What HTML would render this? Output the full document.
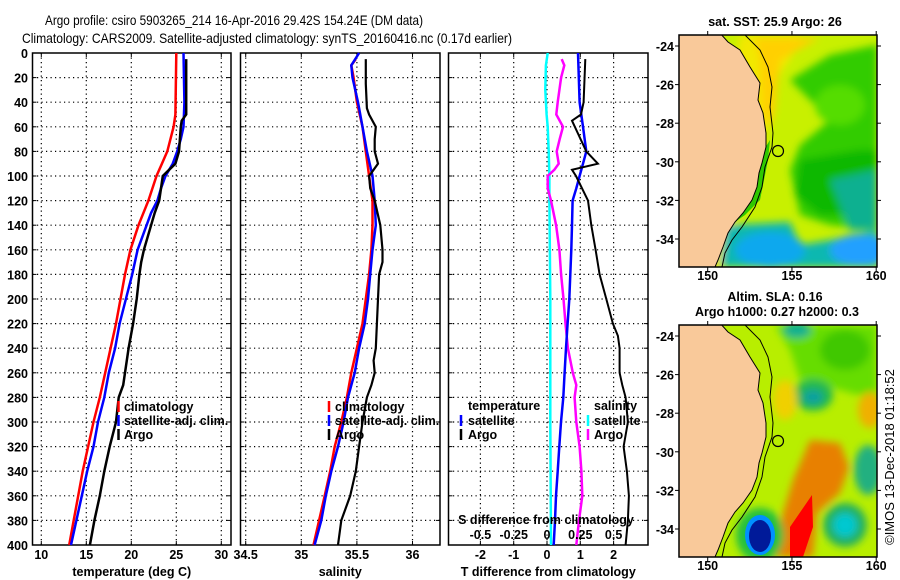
<!DOCTYPE html>
<html><head><meta charset="utf-8"><style>
html,body{margin:0;padding:0;background:#fff;}
svg{display:block;font-family:"Liberation Sans",Arial,sans-serif;}
.t{font-size:12.5px;font-weight:bold;fill:#000;}
.ti{font-size:14px;fill:#000;}
</style></head><body>
<svg id="fig" width="900" height="580" viewBox="0 0 900 580" xmlns="http://www.w3.org/2000/svg">
<rect width="900" height="580" fill="#fff"/>
<text class="ti" x="45" y="25" textLength="378" lengthAdjust="spacingAndGlyphs">Argo profile: csiro 5903265_214 16-Apr-2016 29.42S 154.24E (DM data)</text>
<text class="ti" x="22" y="43" textLength="490" lengthAdjust="spacingAndGlyphs">Climatology: CARS2009. Satellite-adjusted climatology: synTS_20160416.nc (0.17d earlier)</text>
<g id="plots"></g>
<g id="maps"></g>
<text x="0" y="0" font-size="13" transform="translate(894,457) rotate(-90)" text-anchor="middle">©IMOS 13-Dec-2018 01:18:52</text>
</svg>
<script>
// ---------- data ----------
const depthTicks = [0,20,40,60,80,100,120,140,160,180,200,220,240,260,280,300,320,340,360,380,400];
const tempTicks = [10,15,20,25,30];
const salTicks = [34.5,35,35.5,36];
const salTickLabels = ["34.5","35","35.5","36"];
const tdiffTicks = [-2,-1,0,1,2];
const sdiffTicks = [-0.5,-0.25,0,0.25,0.5];
const sdiffTickLabels = ["-0.5","-0.25","0","0.25","0.5"];

const climTDepth = [0,50,60,80,90,100,120,140,160,180,200,220,240,260,280,300,320,340,360,380,400];
const climTVal   = [25.0,24.9,24.7,24.0,23.4,22.8,21.9,20.8,19.9,19.3,18.8,18.3,17.7,17.1,16.5,15.8,15.2,14.6,14.1,13.6,13.1];
const satTDepth = [0,40,60,70,80,90,100,110,120,130,140,160,180,200,220,240,260,280,300,320,340,360,380,400];
const satTVal   = [25.8,25.9,25.8,25.5,25.1,24.6,23.8,23.3,22.9,22.2,21.7,20.7,20.1,19.4,18.7,18.2,17.5,17.0,16.3,15.8,15.1,14.5,13.9,13.3];
const argoTDepth = [5,50,55,60,80,90,95,100,110,120,130,140,160,170,180,200,210,220,240,260,270,280,300,320,340,360,380,400];
const argoTVal   = [26.1,26.1,25.6,25.5,25.3,24.9,24.2,23.5,23.3,23.1,22.6,22.2,21.4,21.1,20.9,20.6,20.4,20.2,19.7,19.3,19.1,18.6,18.3,17.6,17.0,16.5,15.9,15.4];

const climSDepth = [5,10,20,40,60,80,100,120,140,160,180,200,220,240,260,280,300,320,340,360,380,400];
const climSVal   = [35.49,35.45,35.47,35.50,35.55,35.58,35.61,35.64,35.64,35.63,35.61,35.58,35.55,35.50,35.45,35.41,35.36,35.30,35.26,35.21,35.16,35.11];
const satSDepth = [0,10,20,40,60,80,100,120,140,160,180,200,220,240,260,280,300,320,340,360,380,400];
const satSVal   = [35.52,35.45,35.46,35.51,35.55,35.59,35.64,35.66,35.67,35.64,35.62,35.60,35.57,35.52,35.48,35.42,35.38,35.33,35.27,35.22,35.18,35.12];
const argoSDepth = [5,25,45,50,60,70,80,90,95,100,110,120,140,160,170,180,200,220,240,250,260,270,280,300,320,340,360,380,400];
const argoSVal   = [35.58,35.58,35.59,35.61,35.67,35.66,35.66,35.69,35.65,35.61,35.62,35.66,35.71,35.73,35.73,35.70,35.69,35.68,35.67,35.65,35.66,35.63,35.59,35.55,35.52,35.49,35.44,35.36,35.33];

const satTdDepth = [0,40,60,80,90,100,110,120,140,160,180,200,220,240,260,280,300,320,340,360,380,400];
const satTdVal   = [0.93,0.98,1.08,1.18,1.08,0.98,0.88,0.77,0.75,0.73,0.70,0.67,0.62,0.57,0.53,0.49,0.42,0.37,0.32,0.27,0.24,0.20];
const argoTdDepth = [5,40,50,55,80,90,95,100,120,140,160,180,200,220,230,240,260,270,280,300,320,340,360,380,400];
const argoTdVal   = [1.15,1.10,1.02,0.75,1.18,1.53,0.75,0.87,1.23,1.33,1.46,1.58,1.78,1.98,2.13,2.18,2.18,2.26,2.36,2.43,2.30,2.40,2.46,2.43,2.36];
const satSdDepth = [0,10,30,50,60,80,100,120,200,300,400];
const satSdVal   = [0.005,-0.008,-0.013,-0.003,0.005,0.013,0.018,0.018,0.025,0.025,0.030];
const argoSdDepth = [5,10,20,40,50,60,70,80,90,95,100,110,120,140,160,180,200,220,240,260,270,280,300,320,340,360,380,400];
const argoSdVal   = [0.11,0.13,0.106,0.08,0.07,0.12,0.095,0.073,0.088,0.055,0.005,0.005,0.03,0.068,0.093,0.106,0.124,0.139,0.157,0.194,0.22,0.207,0.22,0.245,0.258,0.265,0.24,0.22];

// ---------- scales ----------
const TOP=53, BOT=545;
const yD = d => TOP + d*1.23;
const xT = t => 41.3 + (t-10)*9;
const xS = s => 245.7 + (s-34.5)*111.2;
const xTd = v => 547 + v*33.3;
const xSd = v => 547 + v*133.2;

const NS="http://www.w3.org/2000/svg";
const plots=document.getElementById('plots');
function mk(tag,attrs,parent){const e=document.createElementNS(NS,tag);for(const k in attrs)e.setAttribute(k,attrs[k]);(parent||plots).appendChild(e);return e;}
function txt(s,x,y,anchor,parent){const e=mk('text',{x:x,y:y,'text-anchor':anchor||'middle',class:'t'},parent);e.textContent=s;return e;}

function panel(name,L,R,xs,ticks,labels,title){
  const g=mk('g',{});
  
  
  depthTicks.forEach(d=>{ if(d>0&&d<400) mk('line',{x1:L,x2:R,y1:yD(d),y2:yD(d),stroke:'#000','stroke-width':1.2,'stroke-dasharray':'1.2 3.3'},g);
    mk('line',{x1:L,x2:L+4,y1:yD(d),y2:yD(d),stroke:'#000'},g);mk('line',{x1:R-4,x2:R,y1:yD(d),y2:yD(d),stroke:'#000'},g);});
  ticks.forEach((t,i)=>{const x=xs(t); if(x>L+2&&x<R-2) mk('line',{x1:x,x2:x,y1:TOP,y2:BOT,stroke:'#000','stroke-width':1.2,'stroke-dasharray':'1.2 3.3'},g);
    mk('line',{x1:x,x2:x,y1:TOP,y2:TOP+4,stroke:'#000'},g);mk('line',{x1:x,x2:x,y1:BOT-4,y2:BOT,stroke:'#000'},g);
    const tl=txt(labels[i],x,559,'middle',g);
    
    });
  mk('rect',{x:L,y:TOP,width:R-L,height:BOT-TOP,fill:'none',stroke:'#000','stroke-width':1.5},g);
  const at=txt(title,(L+R)/2,576,'middle',g);
  
  
  return g;
}
function series(name,g,depths,vals,xs,color,w){
  const pts=depths.map((d,i)=>xs(vals[i]).toFixed(1)+','+yD(d).toFixed(1)).join(' ');
  const p=mk('polyline',{points:pts,fill:'none',stroke:color,'stroke-width':w,'stroke-linejoin':'miter'},g);
  
  
}
function legendRow(g,label,color,mx,tx,y){
  const m=mk('line',{x1:mx,x2:mx,y1:y-10,y2:y+1,stroke:color,'stroke-width':2.5},g);
  const t=txt(label,tx,y,'start',g);
  
  
}

// depth labels
depthTicks.forEach(d=>{const t=txt(String(d),28,yD(d)+5,'end');
  
  });

// panel 1
const g1=panel('temperature-panel',32.5,231,xT,tempTicks,tempTicks.map(String),'temperature (deg C)');
series('climatology-temperature-line',g1,climTDepth,climTVal,xT,'#ff0000',2.5);
series('satellite-temperature-line',g1,satTDepth,satTVal,xT,'#0000ff',2.5);
series('argo-temperature-line',g1,argoTDepth,argoTVal,xT,'#000',2.5);
legendRow(g1,'climatology','#ff0000',118.5,124,411);
legendRow(g1,'satellite-adj. clim.','#0000ff',118.5,124,425);
legendRow(g1,'Argo','#000',118.5,124,439);

// panel 2
const g2=panel('salinity-panel',240.5,440,xS,salTicks,salTickLabels,'salinity');
series('climatology-salinity-line',g2,climSDepth,climSVal,xS,'#ff0000',2.5);
series('satellite-salinity-line',g2,satSDepth,satSVal,xS,'#0000ff',2.5);
series('argo-salinity-line',g2,argoSDepth,argoSVal,xS,'#000',2.2);
legendRow(g2,'climatology','#ff0000',329,335,411);
legendRow(g2,'satellite-adj. clim.','#0000ff',329,335,425);
legendRow(g2,'Argo','#000',329,335,439);

// panel 3
const g3=panel('difference-panel',448.5,648,xTd,tdiffTicks,tdiffTicks.map(String),'T difference from climatology');
series('satellite-salinity-diff-line',g3,satSdDepth,satSdVal,xSd,'#00ffff',2.5);
series('argo-salinity-diff-line',g3,argoSdDepth,argoSdVal,xSd,'#ff00ff',2.5);
series('satellite-temperature-diff-line',g3,satTdDepth,satTdVal,xTd,'#0000ff',2.5);
series('argo-temperature-diff-line',g3,argoTdDepth,argoTdVal,xTd,'#000',2);
const st=txt('S difference from climatology',546,524,'middle',g3);


sdiffTicks.forEach((v,i)=>{const t=txt(sdiffTickLabels[i],xSd(v),539,'middle',g3);
  
  });
const lt1=txt('temperature',468,410,'start',g3);


legendRow(g3,'satellite','#0000ff',461,468,425);
legendRow(g3,'Argo','#000',461,468,439);
const lt2=txt('salinity',594,410,'start',g3);


legendRow(g3,'satellite','#00ffff',588,594,425);
legendRow(g3,'Argo','#ff00ff',588,594,439);

// ---------- maps ----------
const maps=document.getElementById('maps');
const lonTicks=[150,155,160];
const latTicks=[-24,-26,-28,-30,-32,-34];
const mX = lon => 707.7 + (lon-150)*16.85;
const coast=[[721.7,35],[728,42],[740,50],[750,67],[760,83],[758,100],[763,113],[766,133],[766,147],[762,163],[759,173],[757,187],[752,200],[743,213],[735,222],[728,233],[723,247],[718,260],[715,267]];
const shelf=[[745,35],[760,50],[768,67],[772,87],[770,107],[773,133],[772,147],[765,167],[762,187],[755,207],[742,227],[732,240],[725,253],[722,267]];
function drawMap(name,oy,title1,title2,blobs){
  const g=mk('g',{transform:'translate(0,'+oy+')'},maps);
  
  
  const cid='clip'+oy;
  const cp=mk('clipPath',{id:cid},g); mk('rect',{x:679,y:35,width:198,height:232},cp);
  const inner=mk('g',{'clip-path':'url(#'+cid+')'},g);
  mk('rect',{x:679,y:35,width:198,height:232,fill:blobs.bg},inner);
  const bg=mk('g',{filter:'url(#blur)'},inner);
  blobs.shapes.forEach(s=>{ if(s.poly) mk('polygon',{points:s.poly.map(p=>p.join(',')).join(' '),fill:s.c},bg);
    else mk('ellipse',{cx:s.x,cy:s.y,rx:s.rx,ry:s.ry,fill:s.c},bg);});
  (blobs.sharp||[]).forEach(s=>{ if(s.poly) mk('polygon',{points:s.poly.map(p=>p.join(',')).join(' '),fill:s.c},inner);
    else mk('ellipse',{cx:s.x,cy:s.y,rx:s.rx,ry:s.ry,fill:s.c},inner);});
  const land=mk('polygon',{points:coast.map(p=>p.join(',')).join(' ')+' 679,267 679,35',fill:'#f9c99a',stroke:'#000','stroke-width':1},inner);
  
  
  mk('polyline',{points:shelf.map(p=>p.join(',')).join(' '),fill:'none',stroke:'#000','stroke-width':1},inner);
  mk('rect',{x:679,y:35,width:198,height:232,fill:'none',stroke:'#000','stroke-width':1.5},g);
  const c=mk('circle',{cx:778,cy:151,r:5.5,fill:'none',stroke:'#000','stroke-width':1.2},g);
  
  
  lonTicks.forEach(l=>{const x=mX(l);mk('line',{x1:x,x2:x,y1:267,y2:271,stroke:'#000'},g);mk('line',{x1:x,x2:x,y1:35,y2:31,stroke:'#000'},g);
    const t=txt(String(l),x,280,'middle',g);
    
    });
  latTicks.forEach(l=>{const y=46+(-24-l)*19.3;mk('line',{x1:675,x2:679,y1:y,y2:y,stroke:'#000'},g);mk('line',{x1:877,x2:881,y1:y,y2:y,stroke:'#000'},g);
    const t=txt(String(l),674,y+5,'end',g);
    
    });
  const t1=txt(title1,775,title2?11:26,'middle',g);
  
  
  if(title2){const t2=txt(title2,777,26,'middle',g);
    
    }
}
const defs=mk('defs',{},maps);
const f=mk('filter',{id:'blur',x:'-20%',y:'-20%',width:'140%',height:'140%'},defs);
mk('feGaussianBlur',{stdDeviation:4},f);

drawMap('sst-map',0,'sat. SST: 25.9 Argo: 26',null,{bg:'#c8f000',shapes:[
 {poly:[[740,35],[800,35],[790,60],[775,80],[768,120],[760,160],[745,200],[725,240],[730,267],[700,267]],c:'#f2e800'},
 {poly:[[755,38],[820,38],[780,60],[775,110],[770,130],[762,110],[760,60]],c:'#ffd000'},
 {poly:[[790,80],[830,55],[877,45],[877,230],[830,225],[800,215],[790,170],[800,145],[830,120]],c:'#33cc00'},
 {poly:[[800,160],[860,150],[877,150],[877,215],[820,215],[795,195]],c:'#10b800'},
 {poly:[[830,180],[877,170],[877,230],[850,230]],c:'#10b090'},
 {poly:[[725,225],[790,222],[800,245],[830,240],[877,230],[877,267],[720,267]],c:'#10b8b0'},
 {x:770,y:250,rx:35,ry:18,c:'#10a8ee'},
 {x:860,y:250,rx:30,ry:16,c:'#20a0ff'},
 {x:840,y:105,rx:25,ry:20,c:'#55dd00'}
],sharp:[{poly:[[745,180],[770,140],[768,160],[760,200],[745,215],[735,222]],c:'#30c800'}]});

drawMap('sla-map',290,'Altim. SLA: 0.16','Argo h1000: 0.27 h2000: 0.3',{bg:'#b8ee00',shapes:[
 {poly:[[775,35],[877,35],[877,110],[840,100],[800,90],[790,60]],c:'#66dd00'},
 {x:797,y:40,rx:14,ry:8,c:'#10b090'},
 {x:845,y:60,rx:25,ry:20,c:'#40c800'},
 {x:813,y:105,rx:20,ry:16,c:'#20b850'},
 {x:813,y:107,rx:10,ry:7,c:'#10a0a0'},
 {x:785,y:110,rx:12,ry:20,c:'#f0d000'},
 {x:870,y:120,rx:12,ry:18,c:'#f0b000'},
 {poly:[[810,150],[840,153],[849,177],[840,203],[817,223],[813,267],[775,267],[783,223],[793,190]],c:'#e88000'},
 {x:868,y:180,rx:14,ry:25,c:'#20b080'},
 {x:760,y:245,rx:24,ry:27,c:'#20c040'},
 {x:845,y:235,rx:22,ry:22,c:'#20b060'},
 {x:845,y:235,rx:12,ry:12,c:'#00c8d0'}
],sharp:[
 {x:760,y:245,rx:15,ry:20,c:'#0090ff'},
 {x:760,y:246,rx:11,ry:16,c:'#001a99'},
 {poly:[[790,237],[812,205],[813,237],[803,267],[790,267]],c:'#ff0000'}
]});
</script>
</body></html>
